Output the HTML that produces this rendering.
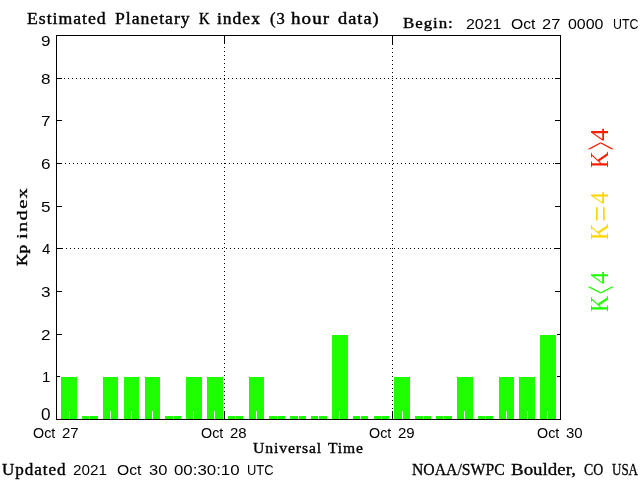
<!DOCTYPE html>
<html lang="en">
<head>
<meta charset="utf-8">
<title>Estimated Planetary K index (3 hour data)</title>
<style>
html,body{margin:0;padding:0;background:#fff;overflow:hidden;}
#c{position:relative;width:640px;height:480px;overflow:hidden;background:#fff;}
.b{position:absolute;}
.w{position:absolute;display:block;white-space:pre;line-height:40px;height:40px;color:#000;transform-origin:0 25px;}
.sb{font-family:"Liberation Serif",serif;font-weight:normal;font-size:16px;transform-origin:0 25px;-webkit-text-stroke:0.4px #000;}
.sn{font-family:"Liberation Serif",serif;font-weight:normal;font-size:16px;transform-origin:0 25px;-webkit-text-stroke:0.3px #000;}
.sa{font-family:"Liberation Sans",sans-serif;font-size:15px;transform-origin:0 25px;}
.sl{font-family:"Liberation Serif",serif;font-weight:normal;font-size:24px;transform-origin:0 28px;}
#rot{position:absolute;left:0;top:480px;width:0;height:0;transform-origin:0 0;transform:rotate(-90deg);}
</style>
</head>
<body>
<div id="c">
<div class="b" style="left:57px;top:376px;width:5px;height:1px;background:#000"></div>
<div class="b" style="left:555px;top:376px;width:5px;height:1px;background:#000"></div>
<div class="b" style="left:57px;top:334px;width:5px;height:1px;background:#000"></div>
<div class="b" style="left:555px;top:334px;width:5px;height:1px;background:#000"></div>
<div class="b" style="left:57px;top:291px;width:5px;height:1px;background:#000"></div>
<div class="b" style="left:555px;top:291px;width:5px;height:1px;background:#000"></div>
<div class="b" style="left:57px;top:248px;width:5px;height:1px;background:#000"></div>
<div class="b" style="left:555px;top:248px;width:5px;height:1px;background:#000"></div>
<div class="b" style="left:57px;top:206px;width:5px;height:1px;background:#000"></div>
<div class="b" style="left:555px;top:206px;width:5px;height:1px;background:#000"></div>
<div class="b" style="left:57px;top:163px;width:5px;height:1px;background:#000"></div>
<div class="b" style="left:555px;top:163px;width:5px;height:1px;background:#000"></div>
<div class="b" style="left:57px;top:120px;width:5px;height:1px;background:#000"></div>
<div class="b" style="left:555px;top:120px;width:5px;height:1px;background:#000"></div>
<div class="b" style="left:57px;top:78px;width:5px;height:1px;background:#000"></div>
<div class="b" style="left:555px;top:78px;width:5px;height:1px;background:#000"></div>
<div class="b" style="left:60px;top:376px;width:18px;height:43px;background:#fff"></div>
<div class="b" style="left:61px;top:377px;width:16px;height:42px;background:#1eff00"></div>
<div class="b" style="left:81px;top:415px;width:18px;height:4px;background:#fff"></div>
<div class="b" style="left:82px;top:416px;width:16px;height:3px;background:#1eff00"></div>
<div class="b" style="left:102px;top:376px;width:17px;height:43px;background:#fff"></div>
<div class="b" style="left:103px;top:377px;width:15px;height:42px;background:#1eff00"></div>
<div class="b" style="left:123px;top:376px;width:17px;height:43px;background:#fff"></div>
<div class="b" style="left:124px;top:377px;width:15px;height:42px;background:#1eff00"></div>
<div class="b" style="left:144px;top:376px;width:17px;height:43px;background:#fff"></div>
<div class="b" style="left:145px;top:377px;width:15px;height:42px;background:#1eff00"></div>
<div class="b" style="left:164px;top:415px;width:18px;height:4px;background:#fff"></div>
<div class="b" style="left:165px;top:416px;width:16px;height:3px;background:#1eff00"></div>
<div class="b" style="left:185px;top:376px;width:18px;height:43px;background:#fff"></div>
<div class="b" style="left:186px;top:377px;width:16px;height:42px;background:#1eff00"></div>
<div class="b" style="left:206px;top:376px;width:18px;height:43px;background:#fff"></div>
<div class="b" style="left:207px;top:377px;width:16px;height:42px;background:#1eff00"></div>
<div class="b" style="left:227px;top:415px;width:17px;height:4px;background:#fff"></div>
<div class="b" style="left:228px;top:416px;width:15px;height:3px;background:#1eff00"></div>
<div class="b" style="left:248px;top:376px;width:17px;height:43px;background:#fff"></div>
<div class="b" style="left:249px;top:377px;width:15px;height:42px;background:#1eff00"></div>
<div class="b" style="left:268px;top:415px;width:18px;height:4px;background:#fff"></div>
<div class="b" style="left:269px;top:416px;width:16px;height:3px;background:#1eff00"></div>
<div class="b" style="left:289px;top:415px;width:18px;height:4px;background:#fff"></div>
<div class="b" style="left:290px;top:416px;width:16px;height:3px;background:#1eff00"></div>
<div class="b" style="left:310px;top:415px;width:18px;height:4px;background:#fff"></div>
<div class="b" style="left:311px;top:416px;width:16px;height:3px;background:#1eff00"></div>
<div class="b" style="left:331px;top:334px;width:18px;height:85px;background:#fff"></div>
<div class="b" style="left:332px;top:335px;width:16px;height:84px;background:#1eff00"></div>
<div class="b" style="left:352px;top:415px;width:17px;height:4px;background:#fff"></div>
<div class="b" style="left:353px;top:416px;width:15px;height:3px;background:#1eff00"></div>
<div class="b" style="left:373px;top:415px;width:17px;height:4px;background:#fff"></div>
<div class="b" style="left:374px;top:416px;width:15px;height:3px;background:#1eff00"></div>
<div class="b" style="left:393px;top:376px;width:18px;height:43px;background:#fff"></div>
<div class="b" style="left:394px;top:377px;width:16px;height:42px;background:#1eff00"></div>
<div class="b" style="left:414px;top:415px;width:18px;height:4px;background:#fff"></div>
<div class="b" style="left:415px;top:416px;width:16px;height:3px;background:#1eff00"></div>
<div class="b" style="left:435px;top:415px;width:18px;height:4px;background:#fff"></div>
<div class="b" style="left:436px;top:416px;width:16px;height:3px;background:#1eff00"></div>
<div class="b" style="left:456px;top:376px;width:18px;height:43px;background:#fff"></div>
<div class="b" style="left:457px;top:377px;width:16px;height:42px;background:#1eff00"></div>
<div class="b" style="left:477px;top:415px;width:17px;height:4px;background:#fff"></div>
<div class="b" style="left:478px;top:416px;width:15px;height:3px;background:#1eff00"></div>
<div class="b" style="left:498px;top:376px;width:17px;height:43px;background:#fff"></div>
<div class="b" style="left:499px;top:377px;width:15px;height:42px;background:#1eff00"></div>
<div class="b" style="left:518px;top:376px;width:18px;height:43px;background:#fff"></div>
<div class="b" style="left:519px;top:377px;width:16px;height:42px;background:#1eff00"></div>
<div class="b" style="left:539px;top:334px;width:18px;height:85px;background:#fff"></div>
<div class="b" style="left:540px;top:335px;width:16px;height:84px;background:#1eff00"></div>
<div class="b" style="left:69px;top:411px;width:1px;height:8px;background:#fff"></div>
<div class="b" style="left:89px;top:411px;width:1px;height:8px;background:#fff"></div>
<div class="b" style="left:110px;top:411px;width:1px;height:8px;background:#fff"></div>
<div class="b" style="left:131px;top:411px;width:1px;height:8px;background:#fff"></div>
<div class="b" style="left:152px;top:411px;width:1px;height:8px;background:#fff"></div>
<div class="b" style="left:173px;top:411px;width:1px;height:8px;background:#fff"></div>
<div class="b" style="left:193px;top:411px;width:1px;height:8px;background:#fff"></div>
<div class="b" style="left:214px;top:411px;width:1px;height:8px;background:#fff"></div>
<div class="b" style="left:235px;top:411px;width:1px;height:8px;background:#fff"></div>
<div class="b" style="left:256px;top:411px;width:1px;height:8px;background:#fff"></div>
<div class="b" style="left:277px;top:411px;width:1px;height:8px;background:#fff"></div>
<div class="b" style="left:298px;top:411px;width:1px;height:8px;background:#fff"></div>
<div class="b" style="left:318px;top:411px;width:1px;height:8px;background:#fff"></div>
<div class="b" style="left:339px;top:411px;width:1px;height:8px;background:#fff"></div>
<div class="b" style="left:360px;top:411px;width:1px;height:8px;background:#fff"></div>
<div class="b" style="left:381px;top:411px;width:1px;height:8px;background:#fff"></div>
<div class="b" style="left:402px;top:411px;width:1px;height:8px;background:#fff"></div>
<div class="b" style="left:423px;top:411px;width:1px;height:8px;background:#fff"></div>
<div class="b" style="left:443px;top:411px;width:1px;height:8px;background:#fff"></div>
<div class="b" style="left:464px;top:411px;width:1px;height:8px;background:#fff"></div>
<div class="b" style="left:485px;top:411px;width:1px;height:8px;background:#fff"></div>
<div class="b" style="left:506px;top:411px;width:1px;height:8px;background:#fff"></div>
<div class="b" style="left:527px;top:411px;width:1px;height:8px;background:#fff"></div>
<div class="b" style="left:547px;top:411px;width:1px;height:8px;background:#fff"></div>
<div class="b" style="left:60px;top:78px;width:500px;height:1px;background:repeating-linear-gradient(to right,#000 0 1px,transparent 1px 4px)"></div>
<div class="b" style="left:61px;top:163px;width:499px;height:1px;background:repeating-linear-gradient(to right,#000 0 1px,transparent 1px 4px)"></div>
<div class="b" style="left:62px;top:248px;width:498px;height:1px;background:repeating-linear-gradient(to right,#000 0 1px,transparent 1px 4px)"></div>
<div class="b" style="left:224px;top:39px;width:1px;height:380px;background:repeating-linear-gradient(to bottom,#000 0 1px,transparent 1px 4px)"></div>
<div class="b" style="left:224px;top:36px;width:1px;height:8px;background:#000"></div>
<div class="b" style="left:224px;top:411px;width:1px;height:8px;background:#000"></div>
<div class="b" style="left:392px;top:36px;width:1px;height:383px;background:repeating-linear-gradient(to bottom,#000 0 1px,transparent 1px 4px)"></div>
<div class="b" style="left:392px;top:36px;width:1px;height:8px;background:#000"></div>
<div class="b" style="left:392px;top:411px;width:1px;height:8px;background:#000"></div>
<div class="b" style="left:56px;top:35px;width:505px;height:1px;background:#000"></div>
<div class="b" style="left:56px;top:419px;width:505px;height:1px;background:#000"></div>
<div class="b" style="left:56px;top:35px;width:1px;height:385px;background:#000"></div>
<div class="b" style="left:560px;top:35px;width:1px;height:385px;background:#000"></div>
<span class="w sb" style="left:27.00px;top:-1.00px;transform:scale(1.1056,1.0000);letter-spacing:0.9px">Estimated</span>
<span class="w sb" style="left:115.00px;top:-1.00px;transform:scale(1.1029,1.0000);letter-spacing:0.9px">Planetary</span>
<span class="w sb" style="left:198.60px;top:-1.00px;transform:scale(0.9167,1.0000)">K</span>
<span class="w sb" style="left:217.25px;top:-1.00px;transform:scale(1.0962,1.0000);letter-spacing:0.9px">index</span>
<span class="w sb" style="left:269.50px;top:-1.00px;transform:scale(1.0357,1.0000);letter-spacing:0.9px">(3</span>
<span class="w sb" style="left:291.00px;top:-1.00px;transform:scale(1.1875,1.0000);letter-spacing:0.9px">hour</span>
<span class="w sb" style="left:338.00px;top:-1.00px;transform:scale(1.1429,1.0000);letter-spacing:0.9px">data)</span>
<span class="w sb" style="left:403.00px;top:3.00px;transform:scale(1.0543,0.9091);letter-spacing:0.9px">Begin:</span>
<span class="w sa" style="left:465.94px;top:4.00px;transform:scale(1.0625,1.0000)">2021</span>
<span class="w sa" style="left:510.95px;top:4.00px;transform:scale(1.0455,1.0000)">Oct</span>
<span class="w sa" style="left:541.90px;top:4.00px;transform:scale(1.1000,1.0000)">27</span>
<span class="w sa" style="left:567.94px;top:4.00px;transform:scale(1.0625,1.0000)">0000</span>
<span class="w sa" style="left:613.17px;top:4.00px;transform:scale(0.8276,1.0000)">UTC</span>
<span class="w sa" style="left:40.86px;top:395.00px;transform:scale(1.1429,1.0800)">0</span>
<span class="w sa" style="left:42.00px;top:357.00px;transform:scale(1.0000,1.0000)">1</span>
<span class="w sa" style="left:40.86px;top:315.00px;transform:scale(1.1429,1.0000)">2</span>
<span class="w sa" style="left:40.86px;top:272.00px;transform:scale(1.1429,1.0000)">3</span>
<span class="w sa" style="left:42.00px;top:229.00px;transform:scale(1.0000,1.0000)">4</span>
<span class="w sa" style="left:40.86px;top:187.00px;transform:scale(1.1429,1.0000)">5</span>
<span class="w sa" style="left:40.86px;top:144.00px;transform:scale(1.1429,1.0000)">6</span>
<span class="w sa" style="left:40.86px;top:101.00px;transform:scale(1.1429,1.0000)">7</span>
<span class="w sa" style="left:40.86px;top:59.00px;transform:scale(1.1429,1.0000)">8</span>
<span class="w sa" style="left:40.86px;top:21.00px;transform:scale(1.1429,1.0000)">9</span>
<span class="w sa" style="left:33.05px;top:413.00px;transform:scale(0.9545,0.9300)">Oct</span>
<span class="w sa" style="left:62.00px;top:413.00px;transform:scale(1.0000,0.9300)">27</span>
<span class="w sa" style="left:201.05px;top:413.00px;transform:scale(0.9545,0.9300)">Oct</span>
<span class="w sa" style="left:230.00px;top:413.00px;transform:scale(1.0000,0.9300)">28</span>
<span class="w sa" style="left:369.05px;top:413.00px;transform:scale(0.9545,0.9300)">Oct</span>
<span class="w sa" style="left:398.00px;top:413.00px;transform:scale(1.0000,0.9300)">29</span>
<span class="w sa" style="left:537.05px;top:413.00px;transform:scale(0.9545,0.9300)">Oct</span>
<span class="w sa" style="left:566.00px;top:413.00px;transform:scale(1.0000,0.9300)">30</span>
<span class="w sb" style="left:253.30px;top:428.00px;transform:scale(0.9812,0.9091);letter-spacing:0.9px">Universal</span>
<span class="w sb" style="left:328.00px;top:428.00px;transform:scale(0.9722,0.9091);letter-spacing:0.9px">Time</span>
<span class="w sb" style="left:1.50px;top:450.00px;transform:scale(1.0678,0.9864);letter-spacing:0.9px">Updated</span>
<span class="w sa" style="left:72.98px;top:450.00px;transform:scale(1.0156,1.0000)">2021</span>
<span class="w sa" style="left:116.95px;top:450.00px;transform:scale(1.0455,1.0000)">Oct</span>
<span class="w sa" style="left:148.90px;top:450.00px;transform:scale(1.1000,1.0000)">30</span>
<span class="w sa" style="left:173.88px;top:450.00px;transform:scale(1.1228,1.0000)">00:30:10</span>
<span class="w sa" style="left:246.64px;top:450.00px;transform:scale(0.8621,1.0000)">UTC</span>
<span class="w sn" style="left:411.60px;top:450.00px;transform:scale(0.9830,1.0000)">NOAA/SWPC</span>
<span class="w sn" style="left:510.50px;top:450.00px;transform:scale(1.1833,1.0000)">Boulder,</span>
<span class="w sn" style="left:584.00px;top:450.00px;transform:scale(0.8636,1.0000)">CO</span>
<span class="w sn" style="left:612.00px;top:450.00px;transform:scale(0.8125,1.0000)">USA</span>
<div id="rot">
<span class="w sb" style="left:213.70px;top:2.00px;transform:scale(1.0737,0.9727);-webkit-text-stroke-width:0.45px">Kp</span>
<span class="w sb" style="left:241.00px;top:2.00px;transform:scale(1.2872,0.9727);letter-spacing:1.0px;-webkit-text-stroke-width:0.3px">index</span>
<span class="w sl" style="left:311.74px;top:580.20px;transform:scale(0.9563,1.0467);color:#ff1e00">K</span>
<span class="w sl" style="transform-origin:0 0;left:330.19px;top:555.78px;transform:scale(0.6091,2.2545);color:#ff1e00">&gt;</span>
<span class="w sl" style="left:339.40px;top:580.20px;transform:scale(1.0500,1.0467);color:#ff1e00">4</span>
<span class="w sl" style="left:240.05px;top:580.20px;transform:scale(0.9500,1.0467);color:#ffd700">K</span>
<span class="w sl" style="transform-origin:0 0;left:257.90px;top:573.00px;transform:scale(1.2000,1.4000);color:#ffd700">=</span>
<span class="w sl" style="left:275.70px;top:580.20px;transform:scale(1.0083,1.0467);color:#ffd700">4</span>
<span class="w sl" style="left:167.76px;top:580.20px;transform:scale(0.9438,1.0467);color:#1eff00">K</span>
<span class="w sl" style="transform-origin:0 0;left:185.51px;top:555.78px;transform:scale(0.5909,2.2545);color:#1eff00">&lt;</span>
<span class="w sl" style="left:195.60px;top:580.20px;transform:scale(1.0333,1.0467);color:#1eff00">4</span>
</div>
</div>
</body>
</html>
